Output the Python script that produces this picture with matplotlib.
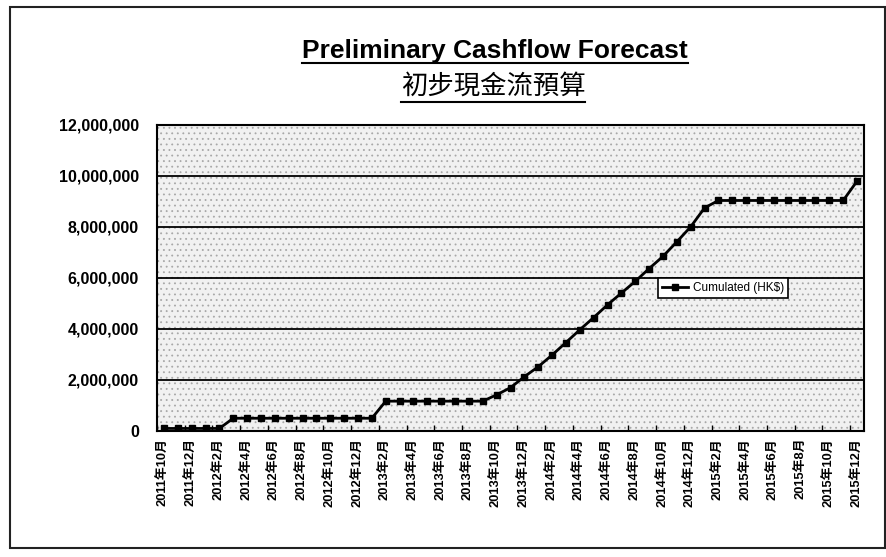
import matplotlib
matplotlib.use("Agg")
import matplotlib.pyplot as plt
from matplotlib.patches import Rectangle
import numpy as np

# ---- data ----
months = []
for y in range(2011, 2016):
    for m in range(1, 13):
        if (y == 2011 and m < 10):
            continue
        months.append(f"{y}年{m}月")

cumulated = ([100000] * 5 + [500000] * 11 + [1170000] * 8 +
             [1420000, 1700000, 2130000, 2520000, 2980000, 3470000, 3970000,
              4450000, 4950000, 5410000, 5870000, 6370000, 6850000, 7420000,
              8010000, 8750000] + [9040000] * 10 + [9800000])

series_label = "Cumulated (HK$)"
title_en = "Preliminary Cashflow Forecast"
title_zh = "初步現金流預算"
y_ticks = [0, 2000000, 4000000, 6000000, 8000000, 10000000, 12000000]

FAM = ["Liberation Sans", "Noto Sans CJK TC", "DejaVu Sans"]
plt.rcParams['font.family'] = FAM
plt.rcParams['hatch.linewidth'] = 0.6

W, H = 887, 557
fig = plt.figure(figsize=(W / 100, H / 100), dpi=100)
fig.patch.set_facecolor("white")

# outer chart border
fig.add_artist(Rectangle((10 / W, 1 - 548 / H), (885 - 10) / W, (548 - 7) / H,
                         transform=fig.transFigure, fill=False,
                         edgecolor="#222222", linewidth=1.5))

left, right, top, bottom = 157, 864, 125, 431
ax = fig.add_axes([left / W, 1 - bottom / H, (right - left) / W, (bottom - top) / H])
ax.set_facecolor("#f1f1f1")
ax.patch.set_hatch("...")
ax.patch.set_edgecolor("#a8a8a8")

x = np.arange(len(months))
ax.plot(x, cumulated, color="black", linewidth=2, marker="s", markersize=4.5,
        markerfacecolor="black", markeredgecolor="black", label=series_label,
        zorder=3)

ax.set_xlim(-0.5, len(months) - 0.5)
ax.set_ylim(0, 12000000)
ax.set_yticks(y_ticks)
ax.set_yticklabels([f"{v:,}" for v in y_ticks], fontsize=11.5,
                   fontweight="bold", family=FAM)
ax.tick_params(axis="y", length=0, pad=13)
for v in y_ticks[1:-1]:
    ax.axhline(v, color="black", linewidth=1.3, zorder=2)

ax.set_xticks(x[::2])
ax.set_xticklabels(months[::2], rotation=90, fontsize=9.3, fontweight="bold",
                   family=FAM)
ax.tick_params(axis="x", which="major", length=0, pad=5)
ax.set_xticks(np.arange(-0.5, len(months), 2), minor=True)
ax.tick_params(axis="x", which="minor", direction="in", length=4, width=1)

for s in ax.spines.values():
    s.set_color("black")
    s.set_linewidth(1.5)

leg = ax.legend(loc="upper left", bbox_to_anchor=((658 - left) / (right - left),
                1 - (278 - top) / (bottom - top)),
                fontsize=8.5, frameon=True, fancybox=False, handlelength=2.2,
                borderpad=0.35, handletextpad=0.4, borderaxespad=0)
leg.get_frame().set_edgecolor("black")
leg.get_frame().set_linewidth(1.2)
leg.get_frame().set_facecolor("white")
leg.get_frame().set_alpha(1)

t1 = fig.text(495 / W, 1 - 51 / H, title_en, ha="center", va="center",
              fontsize=19, fontweight="bold", family=FAM)
t2 = fig.text(493 / W, 1 - 86 / H, title_zh, ha="center", va="center",
              fontsize=19, family=["Noto Sans CJK TC", "DejaVu Sans"])

# underlines
fig.canvas.draw()
r = fig.canvas.get_renderer()
for t, off in ((t1, 0), (t2, 2)):
    bb = t.get_window_extent(r)
    yline = bb.y0 - off
    fig.add_artist(plt.Line2D([bb.x0 / W, bb.x1 / W], [yline / H, yline / H],
                              transform=fig.transFigure, color="black",
                              linewidth=1.5))

fig.savefig("out.png", dpi=100)
